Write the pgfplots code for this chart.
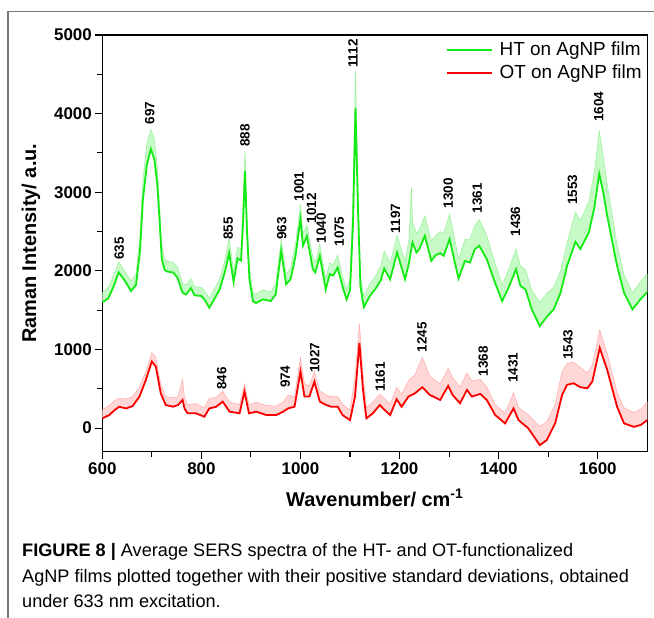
\documentclass[border=0pt]{standalone}
\usepackage{pgfplots}
\pgfplotsset{compat=1.18}
\usepackage{pgfplotstable}
\usepgfplotslibrary{fillbetween}
\usepackage{fontspec}
\setmainfont{Liberation Sans}
\definecolor{htg}{RGB}{20,235,20}
\definecolor{htgl}{RGB}{200,250,200}
\definecolor{htgu}{RGB}{150,240,150}
\definecolor{otr}{RGB}{250,0,0}
\definecolor{otrl}{RGB}{255,215,215}
\definecolor{otru}{RGB}{255,170,170}
\definecolor{framegray}{RGB}{120,120,120}

\pgfplotstableread{
x y
600 1600
612 1650
622 1790
633 1980
645 1880
658 1744
668 1820
676 2250
682 2910
690 3350
698 3550
705 3420
711 3100
716 2600
720 2150
726 2010
732 1990
743 1980
752 1910
762 1720
769 1700
779 1780
786 1690
800 1680
808 1620
816 1530
826 1640
837 1765
848 2000
856 2225
865 1860
873 2158
880 2130
884 2600
888 3270
892 2500
897 1890
904 1616
910 1590
924 1637
940 1616
950 1700
961 2255
971 1830
980 1893
990 2191
1000 2660
1005 2320
1013 2440
1025 2020
1030 1980
1039 2191
1051 1765
1059 1957
1066 1940
1075 2042
1085 1800
1093 1637
1100 1750
1106 2600
1111 4067
1116 2800
1121 1800
1128 1540
1140 1680
1153 1787
1162 1880
1169 2030
1181 1893
1195 2234
1211 1893
1219 2100
1226 2362
1234 2234
1240 2277
1251 2447
1264 2127
1273 2200
1282 2225
1289 2191
1301 2405
1310 2150
1319 1902
1332 2127
1342 2106
1352 2277
1361 2319
1376 2149
1390 1893
1407 1616
1420 1787
1435 2021
1444 1808
1454 1765
1467 1509
1483 1296
1498 1424
1511 1509
1525 1723
1538 2063
1555 2370
1565 2277
1582 2490
1593 2800
1603 3236
1611 3000
1619 2703
1629 2380
1639 2063
1653 1723
1670 1509
1686 1637
1700 1731
}\htmean

\pgfplotstableread{
x y
600 1720
612 1790
622 1930
633 2110
645 2000
658 1870
668 1960
676 2450
682 3150
690 3620
698 3800
705 3680
711 3320
716 2800
720 2330
726 2150
732 2120
743 2110
752 2050
762 1840
769 1820
779 1900
786 1800
800 1790
808 1730
816 1650
826 1770
837 1890
848 2150
856 2420
865 1990
873 2300
880 2280
884 2850
888 3520
892 2700
897 2030
904 1730
910 1700
924 1760
940 1730
950 1830
961 2400
971 1960
980 2030
990 2350
1000 2830
1005 2480
1013 2580
1025 2170
1030 2110
1039 2340
1051 1900
1059 2100
1066 2080
1075 2200
1085 1930
1093 1760
1100 1900
1106 3000
1111 4550
1116 3100
1121 1950
1128 1680
1140 1830
1153 1950
1162 2060
1169 2250
1181 2100
1195 2450
1211 2120
1219 2400
1224 3060
1226 2620
1234 2480
1240 2520
1251 2700
1264 2380
1273 2450
1282 2500
1289 2480
1301 2720
1310 2440
1319 2150
1332 2400
1342 2400
1352 2580
1361 2650
1376 2450
1390 2150
1407 1820
1420 2010
1435 2280
1444 2060
1454 2020
1467 1750
1483 1600
1498 1720
1511 1790
1525 2000
1538 2350
1555 2750
1565 2640
1582 2880
1593 3250
1603 3780
1611 3450
1619 3100
1629 2720
1639 2330
1653 1950
1670 1720
1686 1860
1700 1960
}\htupper

\pgfplotstableread{
x y
600 124
614 166
625 230
634 272
648 250
661 280
675 401
688 614
700 848
708 784
718 443
728 294
743 272
753 294
762 358
766 250
772 188
789 188
806 145
816 250
830 272
843 337
857 209
877 188
887 465
896 188
911 209
931 166
951 166
965 209
975 251
988 272
1000 720
1008 401
1018 401
1028 592
1039 337
1052 294
1062 272
1075 272
1085 166
1100 102
1110 400
1119 1083
1126 500
1133 124
1146 188
1160 294
1170 230
1181 166
1194 367
1204 272
1218 401
1231 443
1246 520
1261 422
1282 358
1298 537
1307 422
1322 316
1336 486
1346 401
1363 435
1376 358
1393 166
1413 60
1430 251
1440 102
1460 -4
1483 -217
1497 -153
1514 60
1528 422
1538 550
1551 571
1565 520
1579 507
1589 592
1604 1019
1619 742
1639 272
1653 60
1673 16
1687 41
1700 102
}\otmean

\pgfplotstableread{
x y
600 230
614 290
625 350
634 380
648 370
661 400
675 520
688 720
700 960
708 900
718 560
728 400
743 390
753 400
762 620
766 380
772 300
789 310
806 260
816 380
830 390
843 470
857 330
877 300
887 560
896 300
911 330
931 290
951 280
965 330
975 420
988 400
1000 900
1008 560
1018 540
1028 720
1039 470
1052 420
1062 400
1075 400
1085 300
1100 230
1110 650
1119 1330
1126 700
1133 260
1146 330
1160 430
1170 370
1181 300
1194 520
1204 430
1218 600
1231 680
1246 900
1261 660
1282 560
1298 760
1307 640
1322 520
1336 700
1346 600
1363 620
1376 520
1393 300
1413 190
1430 450
1440 260
1460 170
1483 20
1497 80
1514 300
1528 720
1538 820
1551 840
1565 770
1579 700
1589 800
1604 1250
1619 950
1639 450
1653 260
1673 200
1687 240
1700 330
}\otupper

\pgfplotstableread{
x y label
634 2140 635
696 3860 697
854 2393 855
888 3579 888
962 2393 963
997 2880 1001
1022 2606 1012
1042 2351 1040
1078 2308 1075
1106 4580 1112
1192 2478 1197
1298 2796 1300
1357 2733 1361
1434 2435 1436
1549 2838 1553
1602 3897 1604
841 487 846
969 508 974
1029 699 1027
1161 465 1161
1245 961 1245
1369 656 1368
1429 572 1431
1540 868 1543
}\peaklabels

\begin{document}
\begin{tikzpicture}
\draw[framegray, line width=1.2bp] (8bp,0bp) -- (8bp,606.3bp) -- (654bp,606.3bp);
\begin{axis}[
  at={(102.3bp,166.3bp)}, anchor=south west,
  scale only axis, width=545bp, height=416.7bp,
  xmin=600, xmax=1700, ymin=-300, ymax=5000,
  xtick={600,800,...,1600}, ytick={0,1000,...,5000},
  minor x tick num=1, minor y tick num=1,
  tick align=outside, tick pos=left,
  major tick length=7bp, minor tick length=5bp,
  axis line style={line width=1.2bp},
  every tick/.style={black, line width=1.1bp},
  /pgf/number format/assume math mode=true,
  /pgf/number format/1000 sep={},
  tick label style={font=\bfseries\fontsize{17}{17}\selectfont},
  xlabel={\textbf{Wavenumber/ cm\textsuperscript{-1}}},
  ylabel={\textbf{Raman Intensity/ a.u.}},
  xlabel style={at={(axis description cs:0.5,-0.111)}, anchor=center, font=\fontsize{20}{20}\selectfont},
  ylabel style={at={(axis description cs:-0.131,0.5)}, anchor=center, font=\fontsize{20}{20}\selectfont},
  legend style={draw=none, fill=none, at={(axis description cs:1,1)}, anchor=north east,
    xshift=-4bp, yshift=-4.5bp, inner sep=0pt,
    nodes={inner sep=1.5bp, text height=14bp, text depth=4bp},
    row sep=2bp, font=\fontsize{19}{19}\selectfont},
  legend cell align=left,
  legend image code/.code={\draw[#1] (0bp,0bp) -- (45bp,0bp); \path (50bp,0bp);},
  clip=true,
]
\addplot[name path=gU, htgu, line width=0.5bp, forget plot] table[x=x,y=y] {\htupper};
\addplot[name path=gM, draw=none, forget plot] table[x=x,y=y] {\htmean};
\addplot[htgl, forget plot] fill between[of=gU and gM];
\addplot[name path=rU, otru, line width=0.5bp, forget plot] table[x=x,y=y] {\otupper};
\addplot[name path=rM, draw=none, forget plot] table[x=x,y=y] {\otmean};
\addplot[otrl, forget plot] fill between[of=rU and rM];
\addplot[htg, line width=1.8bp] table[x=x,y=y] {\htmean};
\addlegendentry{HT on AgNP film}
\addplot[otr, line width=1.8bp] table[x=x,y=y] {\otmean};
\addlegendentry{OT on AgNP film}
\addplot[draw=none, mark=none, forget plot, point meta=explicit symbolic,
  nodes near coords={\pgfplotspointmeta},
  nodes near coords style={rotate=90, anchor=west, inner sep=0pt, black, font=\bfseries\fontsize{13.5}{13.5}\selectfont}]
  table[x=x,y=y,meta=label] {\peaklabels};
\end{axis}
\node[anchor=base west, inner sep=0pt, font=\fontsize{18.2}{18.2}\selectfont] at (22bp,61bp) {\textbf{FIGURE 8 |} Average SERS spectra of the HT- and OT-functionalized};
\node[anchor=base west, inner sep=0pt, font=\fontsize{18.2}{18.2}\selectfont] at (22bp,35.7bp) {AgNP films plotted together with their positive standard deviations, obtained};
\node[anchor=base west, inner sep=0pt, font=\fontsize{18.2}{18.2}\selectfont] at (22bp,11bp) {under 633 nm excitation.};
\pgfresetboundingbox
\useasboundingbox (0bp,0bp) rectangle (654bp,618bp);
\end{tikzpicture}
\end{document}
